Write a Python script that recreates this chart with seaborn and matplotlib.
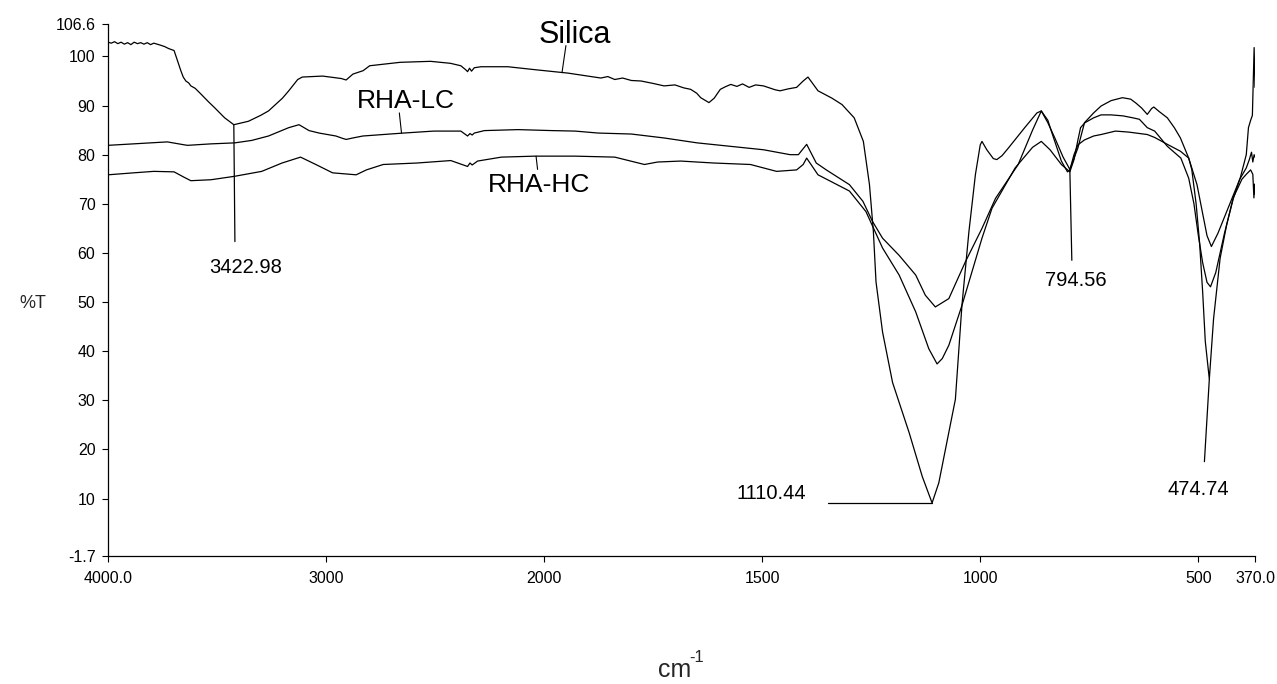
import numpy as np
import pandas as pd
import matplotlib
matplotlib.use("Agg")
import matplotlib.pyplot as plt
import seaborn as sns

# ---------------- data (wavenumber cm-1, %T) ----------------
silica_wn = [4000, 3985, 3970, 3955, 3940, 3925, 3910, 3895, 3880, 3865, 3850, 3835, 3820, 3805,
             3790, 3775, 3760, 3740, 3722, 3697, 3666, 3655, 3643, 3630, 3620, 3600, 3573, 3540,
             3512, 3465, 3423, 3356, 3300, 3264, 3200, 3171, 3130, 3109, 3016, 2930, 2908, 2877,
             2830, 2800, 2660, 2521, 2430, 2382, 2360, 2351, 2342, 2333, 2320, 2289, 2166, 2042,
             1945, 1900, 1870, 1854, 1838, 1820, 1800, 1778, 1750, 1725, 1700, 1680, 1664, 1650,
             1641, 1622, 1610, 1596, 1585, 1572, 1558, 1545, 1530, 1515, 1497, 1480, 1470, 1459,
             1440, 1421, 1406, 1395, 1372, 1340, 1317, 1289, 1268, 1254, 1245, 1239, 1224, 1201,
             1163, 1133, 1110.44, 1095, 1057, 1042, 1026, 1011, 1000, 996, 985, 970, 962, 950,
             935, 898, 870, 860, 845, 837, 814, 800, 794.56, 785, 776, 761, 740, 723, 690, 660,
             617, 600, 571, 541, 522, 515, 505, 497, 490, 484, 474.74, 465, 450, 435, 420, 400,
             390, 380, 375, 372.5, 371, 370]
silica_T = [102.9, 102.7, 103.0, 102.6, 102.9, 102.5, 102.8, 102.4, 102.9, 102.6, 102.8, 102.5, 102.8, 102.4,
            102.7, 102.5, 102.3, 102.0, 101.6, 101.2, 97.1, 95.8, 95.0, 94.6, 94.0, 93.5, 92.3, 90.8,
            89.6, 87.5, 86.1, 86.8, 88.0, 88.9, 91.5, 93.0, 95.3, 95.8, 96.0, 95.5, 95.2, 96.4,
            97.1, 98.1, 98.8, 99.0, 98.6, 98.1, 97.3, 96.9, 97.6, 97.0, 97.7, 97.9, 97.9, 97.3,
            96.6, 96.0, 95.6, 95.9, 95.3, 95.6, 95.1, 95.0, 94.5, 94.0, 94.2, 93.6, 93.3, 92.5,
            91.6, 90.6, 91.5, 93.3, 93.8, 94.3, 93.9, 94.4, 93.7, 94.2, 94.0, 93.5, 93.2, 93.0,
            93.4, 93.7, 95.0, 95.8, 93.0, 91.5, 90.2, 87.5, 82.7, 73.9, 64.3, 54.1, 43.9, 33.6,
            23.4, 14.5, 9.1, 13.2, 30.2, 49.3, 64.3, 76.0, 82.0, 82.7, 81.0, 79.2, 79.0, 79.8,
            81.4, 85.5, 88.5, 88.9, 87.0, 84.8, 78.7, 76.5, 76.9, 80.0, 82.0, 83.0, 83.8, 84.1, 84.8, 84.6,
            84.1, 83.5, 82.1, 80.7, 79.3, 77.0, 70.0, 62.0, 52.0, 42.0, 34.3, 46.6, 58.9, 65.7, 71.2, 75.0,
            76.0, 76.9, 76.0, 71.2, 74.0, 72.0]

lc_wn = [4000, 3883, 3728, 3650, 3635, 3527, 3419, 3341, 3264, 3171, 3124, 3078, 3032, 2955,
         2923, 2908, 2877, 2831, 2738, 2645, 2506, 2382, 2351, 2340, 2330, 2320, 2274, 2119,
         1982, 1929, 1876, 1800, 1725, 1649, 1573, 1497, 1436, 1417, 1398, 1376, 1353, 1300,
         1269, 1247, 1224, 1186, 1148, 1126, 1103, 1072, 1034, 996, 965, 913, 880, 860, 845,
         829, 810, 794.56, 776, 761, 740, 723, 700, 674, 655, 643, 630, 617, 607, 602, 590, 571,
         555, 541, 522, 503, 490, 480, 470, 455, 435, 404, 390, 385, 380, 376, 372, 370]
lc_T = [81.9, 82.2, 82.6, 82.0, 81.9, 82.2, 82.4, 82.9, 83.8, 85.5, 86.1, 84.9, 84.4, 83.8,
        83.3, 83.1, 83.4, 83.8, 84.1, 84.4, 84.8, 84.8, 83.8, 84.3, 84.0, 84.4, 84.9, 85.1,
        84.9, 84.8, 84.4, 84.2, 83.4, 82.4, 81.7, 81.0, 80.0, 80.0, 82.1, 78.3, 76.9, 73.9,
        70.5, 66.4, 63.0, 59.5, 55.5, 51.4, 49.0, 50.7, 58.2, 65.0, 71.1, 78.0, 85.0, 88.9, 86.5,
        83.4, 79.5, 77.0, 81.4, 86.5, 88.5, 89.9, 91.0, 91.6, 91.3, 90.5, 89.5, 88.2, 89.4, 89.7, 88.8, 87.5,
        85.5, 83.4, 79.3, 73.9, 68.0, 63.5, 61.3, 64.0, 68.4, 75.2, 80.0, 85.5, 87.0, 88.0, 101.8, 93.7]

hc_wn = [4000, 3883, 3790, 3697, 3651, 3620, 3527, 3419, 3295, 3202, 3117, 3047, 2970, 2862,
         2815, 2738, 2583, 2428, 2351, 2340, 2330, 2305, 2196, 2042, 1929, 1838, 1770, 1740,
         1687, 1611, 1527, 1467, 1421, 1406, 1398, 1372, 1300, 1262, 1224, 1186, 1148, 1118,
         1099, 1087, 1072, 1042, 996, 973, 920, 880, 860, 840, 814, 794.56, 785, 776, 770, 760,
         740, 723, 700, 673, 650, 635, 617, 600, 571, 540, 522, 510, 500, 490, 480, 472, 460,
         455, 440, 420, 405, 390, 383, 378, 375, 372, 370]
hc_T = [75.9, 76.3, 76.6, 76.5, 75.4, 74.7, 74.9, 75.6, 76.6, 78.3, 79.5, 78.0, 76.3, 75.9,
        76.9, 78.0, 78.3, 78.8, 77.6, 78.3, 77.9, 78.7, 79.5, 79.7, 79.7, 79.5, 78.0, 78.5,
        78.7, 78.3, 78.0, 76.6, 76.9, 78.0, 79.3, 75.9, 72.6, 68.4, 61.0, 55.5, 48.0, 40.5,
        37.4, 38.5, 41.2, 49.3, 63.0, 69.1, 77.3, 81.5, 82.7, 81.0, 78.0, 76.5, 79.0, 83.0, 85.5, 86.5,
        87.5, 88.1, 88.1, 87.9, 87.5, 87.2, 85.5, 84.8, 81.7, 79.3, 75.2, 70.0, 63.6, 58.0, 54.0, 53.1, 56.0,
        58.0, 64.0, 71.0, 75.0, 77.3, 79.0, 80.5, 78.5, 80.0, 79.5]

series_names = ["Silica", "RHA-LC", "RHA-HC"]
name_wn = [1929, 2636, 2025]
name_T = [104.4, 91.0, 73.8]
name_sizes = [22, 19, 19]
# leader lines for the names: (wn0, T0, wn1, T1)
name_leaders = [(1950, 102.2, 1959, 96.7), (2664, 88.5, 2654, 84.4), (2037, 79.7, 2030, 77.0)]

peak_labels = ["3422.98", "1110.44", "794.56", "474.74"]
peak_label_wn = [3369, 1479, 782, 500]
peak_label_T = [57.0, 11.0, 54.4, 11.8]
peak_leaders = [(3423, 86.1, 3418, 62.3), (1110.44, 9.1, 1349, 9.1),
                (794.56, 77.0, 790, 58.5), (474.74, 34.3, 486, 17.5)]

x_ticks = [4000, 3000, 2000, 1500, 1000, 500, 370]
x_tick_labels = ["4000.0", "3000", "2000", "1500", "1000", "500", "370.0"]
y_ticks = [106.6, 100, 90, 80, 70, 60, 50, 40, 30, 20, 10, -1.7]
y_tick_labels = ["106.6", "100", "90", "80", "70", "60", "50", "40", "30", "20", "10", "-1.7"]

# ---------------- style ----------------
sns.set_style("white")
plt.rcParams['font.family'] = ['Liberation Sans', 'DejaVu Sans']

fig = plt.figure(figsize=(12.77, 6.84), dpi=100)
ax = fig.add_axes([108 / 1277, 1 - 556 / 684, (1255 - 108) / 1277, (556 - 24) / 684])

for wn, T in [(silica_wn, silica_T), (lc_wn, lc_T), (hc_wn, hc_T)]:
    df = pd.DataFrame({"wn": wn, "T": T})
    sns.lineplot(data=df, x="wn", y="T", ax=ax, color="black", linewidth=0.9,
                 sort=False, estimator=None)


def fwd(x):
    x = np.asarray(x, dtype=float)
    return np.where(x <= 2000, x, 2000 + (x - 2000) / 2.0)


def inv(y):
    y = np.asarray(y, dtype=float)
    return np.where(y <= 2000, y, 2000 + 2.0 * (y - 2000))


ax.set_xscale("function", functions=(fwd, inv))
ax.set_xlim(4000, 370)
ax.set_ylim(-1.7, 106.6)

ax.set_xticks(x_ticks)
ax.set_xticklabels(x_tick_labels)
ax.set_yticks(y_ticks)
ax.set_yticklabels(y_tick_labels)
ax.minorticks_off()
ax.tick_params(axis="both", direction="out", length=4, width=0.8, color="black",
               labelsize=11.5, labelcolor="black", left=True, bottom=True)
ax.tick_params(axis="x", pad=7)
ax.tick_params(axis="y", pad=5)
ax.set_xlabel("")
ax.set_ylabel("")

for s in ["top", "right"]:
    ax.spines[s].set_visible(False)
for s in ["left", "bottom"]:
    ax.spines[s].set_color("black")
    ax.spines[s].set_linewidth(0.9)

# series names and their leaders
for name, wx, ty, fs, ld in zip(series_names, name_wn, name_T, name_sizes, name_leaders):
    ax.text(wx, ty, name, ha="center", va="center", fontsize=fs, color="black")
    ax.plot([ld[0], ld[2]], [ld[1], ld[3]], color="black", linewidth=0.8)

# peak labels and marker lines
for lab, wx, ty, ld in zip(peak_labels, peak_label_wn, peak_label_T, peak_leaders):
    ax.text(wx, ty, lab, ha="center", va="center", fontsize=14.5, color="black")
    ax.plot([ld[0], ld[2]], [ld[1], ld[3]], color="black", linewidth=0.9)

fig.text(33 / 1277, 1 - 304 / 684, "%T", ha="center", va="center", fontsize=13)
fig.text(675 / 1277, 1 - 670 / 684, "cm", ha="center", va="center", fontsize=18)
fig.text(697 / 1277, 1 - 657 / 684, "-1", ha="center", va="center", fontsize=12)

fig.savefig("out.png", dpi=100, facecolor="white")
